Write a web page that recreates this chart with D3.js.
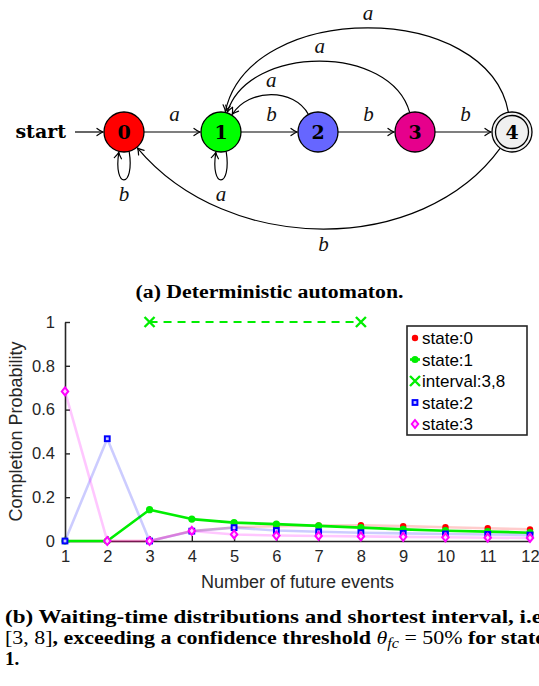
<!DOCTYPE html>
<html>
<head>
<meta charset="utf-8">
<script src="https://cdn.jsdelivr.net/npm/d3@7"></script>
<style>
  body { margin: 0; background: #fff; }
  svg { display: block; }
</style>
</head>
<body>
<svg width="539" height="686"></svg>
<script>
// automaton data
const stateIds = ["0", "1", "2", "3", "4"];
const stateFills = ["#ff0000", "#00ff00", "#6666ff", "#e6008c", "#f0f0f0"];
const acceptingStates = ["4"];
const forwardEdges = [
    { from: "0", to: "1", label: "a" },
    { from: "1", to: "2", label: "b" },
    { from: "2", to: "3", label: "b" },
    { from: "3", to: "4", label: "b" }
];
const loopEdges = [
    { state: "0", label: "b" },
    { state: "1", label: "a" }
];
const backEdges = [
    { from: "2", to: "1", label: "a" },
    { from: "3", to: "1", label: "a" },
    { from: "4", to: "1", label: "a" },
    { from: "4", to: "0", label: "b" }
];

// waiting-time data
const futureEvents = [1, 2, 3, 4, 5, 6, 7, 8, 9, 10, 11, 12];
const state0 = [0, 0, 0, 0.046, 0.062, 0.068, 0.071, 0.072, 0.068, 0.063, 0.058, 0.053];
const state1 = [0, 0, 0.143, 0.1, 0.084, 0.077, 0.069, 0.061, 0.053, 0.047, 0.043, 0.038];
const state2 = [0, 0.467, 0, 0.045, 0.061, 0.048, 0.042, 0.038, 0.035, 0.032, 0.03, 0.027];
const state3 = [0.683, 0, 0, 0.046, 0.03, 0.025, 0.023, 0.021, 0.019, 0.017, 0.015, 0.014];
const intervalBounds = [3, 8];
const intervalLevel = 1;
const yTicks = [0, 0.2, 0.4, 0.6, 0.8, 1];
const legendLabels = ["state:0", "state:1", "interval:3,8", "state:2", "state:3"];

const svg = d3.select("svg");
const ink = "#000";
const serif = "'Liberation Serif', 'Times New Roman', serif";
const sans = "'Liberation Sans', Arial, Helvetica, sans-serif";

// ---------- (a) automaton ----------
const nodeX = d3.scalePoint().domain(stateIds).range([124, 512]);
const nodeY = 132;
const r = 20;

const defs = svg.append("defs");
defs.append("marker")
    .attr("id", "tip")
    .attr("viewBox", "-7 -5 8 10")
    .attr("refX", 0).attr("refY", 0)
    .attr("markerWidth", 8).attr("markerHeight", 10)
    .attr("markerUnits", "userSpaceOnUse")
    .attr("orient", "auto")
    .append("path")
    .attr("d", "M-6,-3.6 Q-2,-0.6 0,0 Q-2,0.6 -6,3.6")
    .attr("fill", "none")
    .attr("stroke", ink)
    .attr("stroke-width", 1.2)
    .attr("stroke-linecap", "round");

const diagram = svg.append("g");

// start arrow
diagram.append("text")
    .attr("x", 66).attr("y", nodeY + 6)
    .attr("text-anchor", "end")
    .attr("font-family", "'DejaVu Serif', serif")
    .attr("font-weight", "bold")
    .attr("font-size", "19px")
    .text("start");
diagram.append("line")
    .attr("x1", 75).attr("x2", nodeX("0") - r - 1)
    .attr("y1", nodeY).attr("y2", nodeY)
    .attr("stroke", ink).attr("stroke-width", 1.2)
    .attr("marker-end", "url(#tip)");

function onCircle(cx, cy, px, py, rad) {
    const a = Math.atan2(py - cy, px - cx);
    return [cx + rad * Math.cos(a), cy + rad * Math.sin(a)];
}

function edgeLabel(x, y, label) {
    diagram.append("text")
        .attr("x", x).attr("y", y)
        .attr("text-anchor", "middle")
        .attr("font-family", serif)
        .attr("font-style", "italic")
        .attr("font-size", "21px")
        .attr("fill", "#111")
        .text(label);
}

// straight edges
forwardEdges.forEach(e => {
    const x0 = nodeX(e.from) + r, x1 = nodeX(e.to) - r;
    diagram.append("line")
        .attr("x1", x0).attr("x2", x1 - 1)
        .attr("y1", nodeY).attr("y2", nodeY)
        .attr("stroke", ink).attr("stroke-width", 1.2)
        .attr("marker-end", "url(#tip)");
    edgeLabel((x0 + x1) / 2 + 2, nodeY - 11, e.label);
});

// self loops below the state
loopEdges.forEach(e => {
    const cx = nodeX(e.state);
    const a0 = 75 * Math.PI / 180, a1 = 105 * Math.PI / 180, L = 38;
    const s = [cx + r * Math.cos(a0), nodeY + r * Math.sin(a0)];
    const t = [cx + r * Math.cos(a1), nodeY + r * Math.sin(a1)];
    const p = d3.path();
    p.moveTo(s[0], s[1]);
    p.bezierCurveTo(s[0] + L * Math.cos(a0) * 0.6, s[1] + L, t[0] + L * Math.cos(a1) * 0.6, t[1] + L, t[0], t[1] + 1);
    diagram.append("path")
        .attr("d", p.toString())
        .attr("fill", "none").attr("stroke", ink).attr("stroke-width", 1.2)
        .attr("marker-end", "url(#tip)");
    edgeLabel(cx, nodeY + 69, e.label);
});

// curved back edges: to state 1 above, to state 0 below
backEdges.forEach(e => {
    const x0 = nodeX(e.from), x1 = nodeX(e.to);
    const span = stateIds.indexOf(e.from) - stateIds.indexOf(e.to);
    const below = e.to === "0";
    const H = below ? 124 : 44 * (span);
    const leanS = below ? 90 : 24;
    const leanE = below ? 104 : 28;
    const dir = below ? 1 : -1;
    const c1 = [x0 - leanS, nodeY + dir * H];
    const c2 = [x1 + leanE, nodeY + dir * H];
    const s = onCircle(x0, nodeY, c1[0], c1[1], r);
    const t = onCircle(x1, nodeY, c2[0], c2[1], r + 1);
    const p = d3.path();
    p.moveTo(s[0], s[1]);
    p.bezierCurveTo(c1[0], c1[1], c2[0], c2[1], t[0], t[1]);
    diagram.append("path")
        .attr("d", p.toString())
        .attr("fill", "none").attr("stroke", ink).attr("stroke-width", 1.2)
        .attr("marker-end", "url(#tip)");
    const mx = (s[0] + 3 * c1[0] + 3 * c2[0] + t[0]) / 8;
    const my = (s[1] + 3 * c1[1] + 3 * c2[1] + t[1]) / 8;
    edgeLabel(mx, below ? my + 22 : my - 8, e.label);
});

// states
const nodes = diagram.selectAll(".state")
    .data(stateIds)
    .enter().append("g")
    .attr("class", "state")
    .attr("transform", d => `translate(${nodeX(d)},${nodeY})`);
nodes.append("circle")
    .attr("r", r)
    .attr("fill", (d, i) => stateFills[i])
    .attr("stroke", ink).attr("stroke-width", 1.3);
nodes.filter(d => acceptingStates.includes(d))
    .append("circle")
    .attr("r", r - 3.5)
    .attr("fill", "none")
    .attr("stroke", ink).attr("stroke-width", 1.3);
nodes.append("text")
    .attr("y", 7)
    .attr("text-anchor", "middle")
    .attr("font-family", "'DejaVu Serif', serif")
    .attr("font-weight", "bold")
    .attr("font-size", "19px")
    .text(d => d);

// caption (a)
svg.append("text")
    .attr("x", 269.5).attr("y", 298)
    .attr("text-anchor", "middle")
    .attr("font-family", serif)
    .attr("font-weight", "bold")
    .attr("font-size", "18px")
    .attr("textLength", 268)
    .attr("lengthAdjust", "spacingAndGlyphs")
    .text("(a) Deterministic automaton.");

// ---------- (b) chart ----------
const x = d3.scaleLinear().domain([1, 12]).range([65, 530]);
const y = d3.scaleLinear().domain([0, 1]).range([541, 322]);
const axisInk = "#262626";

const chart = svg.append("g");

// axes (ticks pointing inside like MATLAB)
const yAxis = chart.append("g")
    .attr("transform", `translate(${x(1)},0)`)
    .call(d3.axisLeft(y).tickValues(yTicks).tickSizeInner(-5).tickSizeOuter(0).tickPadding(10)
        .tickFormat(d => d3.format("~g")(d)));
const xAxis = chart.append("g")
    .attr("transform", `translate(0,${y(0)})`)
    .call(d3.axisBottom(x).tickValues(futureEvents).tickSizeInner(-5).tickSizeOuter(0).tickPadding(9)
        .tickFormat(d3.format("d")));
[yAxis, xAxis].forEach(a => {
    a.select(".domain").attr("stroke", axisInk).attr("stroke-width", 1.6);
    a.selectAll(".tick line").attr("stroke", axisInk).attr("stroke-width", 1.4);
    a.selectAll(".tick text")
        .attr("fill", axisInk)
        .attr("font-family", sans)
        .attr("font-size", "16.5px");
});

chart.append("text")
    .attr("transform", `translate(22,${(y(0) + y(1)) / 2}) rotate(-90)`)
    .attr("text-anchor", "middle")
    .attr("font-family", sans)
    .attr("font-size", "18px")
    .attr("fill", axisInk)
    .text("Completion Probability");
chart.append("text")
    .attr("x", (x(1) + x(12)) / 2).attr("y", 588)
    .attr("text-anchor", "middle")
    .attr("font-family", sans)
    .attr("font-size", "18px")
    .attr("fill", axisInk)
    .text("Number of future events");

const line = d3.line().x((d, i) => x(futureEvents[i])).y(d => y(d));

const series = [
    { values: state0, color: "#ff0000", opacity: 0.2, marker: "dot" },
    { values: state1, color: "#00ee00", opacity: 1, marker: "circle" },
    { values: state2, color: "#0000ff", opacity: 0.2, marker: "square" },
    { values: state3, color: "#ff00ff", opacity: 0.22, marker: "diamond" }
];

function drawMarker(g, kind, color, cx, cy) {
    if (kind === "dot") {
        g.append("circle").attr("cx", cx).attr("cy", cy).attr("r", 3.2).attr("fill", color);
    } else if (kind === "circle") {
        g.append("circle").attr("cx", cx).attr("cy", cy).attr("r", 3.6).attr("fill", color);
    } else if (kind === "square") {
        g.append("rect").attr("x", cx - 2.4).attr("y", cy - 2.4).attr("width", 4.8).attr("height", 4.8)
            .attr("fill", "#c8c8ff").attr("stroke", color).attr("stroke-width", 2);
    } else if (kind === "diamond") {
        g.append("path")
            .attr("d", `M${cx},${cy - 4} L${cx + 3.2},${cy} L${cx},${cy + 4} L${cx - 3.2},${cy} Z`)
            .attr("fill", "#ffd6ff").attr("stroke", color).attr("stroke-width", 2);
    } else if (kind === "cross") {
        g.append("path")
            .attr("d", `M${cx - 5},${cy - 5} L${cx + 5},${cy + 5} M${cx - 5},${cy + 5} L${cx + 5},${cy - 5}`)
            .attr("stroke", color).attr("stroke-width", 2.4).attr("fill", "none");
    }
}

// interval drawn after state:1 as in the legend order
series.forEach((s, k) => {
    const g = chart.append("g");
    g.append("path")
        .datum(s.values)
        .attr("d", line)
        .attr("fill", "none")
        .attr("stroke", s.color)
        .attr("stroke-opacity", s.opacity)
        .attr("stroke-width", 2.6)
        .attr("stroke-linejoin", "round");
    s.values.forEach((v, i) => drawMarker(g, s.marker, s.color, x(futureEvents[i]), y(v)));
    if (k === 1) {
        const gi = chart.append("g");
        gi.append("line")
            .attr("x1", x(intervalBounds[0])).attr("x2", x(intervalBounds[1]))
            .attr("y1", y(intervalLevel)).attr("y2", y(intervalLevel))
            .attr("stroke", "#00ee00").attr("stroke-width", 2.2)
            .attr("stroke-dasharray", "8,6");
        intervalBounds.forEach(b => drawMarker(gi, "cross", "#00ee00", x(b), y(intervalLevel)));
    }
});

// legend
const legend = chart.append("g").attr("transform", "translate(407,326)");
legend.append("rect")
    .attr("width", 120).attr("height", 109)
    .attr("fill", "#fff")
    .attr("stroke", axisInk).attr("stroke-width", 1.6);
const legendMarks = [
    { kind: "dot", color: "#ff0000" },
    { kind: "circle", color: "#00ee00", withLine: true },
    { kind: "cross", color: "#00ee00" },
    { kind: "square", color: "#0000ff" },
    { kind: "diamond", color: "#ff00ff" }
];
legendLabels.forEach((lab, i) => {
    const ly = 12 + i * 21.5;
    const m = legendMarks[i];
    if (m.withLine) {
        legend.append("line").attr("x1", 3).attr("x2", 13).attr("y1", ly).attr("y2", ly)
            .attr("stroke", m.color).attr("stroke-width", 2.6);
    }
    drawMarker(legend, m.kind, m.color, 8, ly);
    legend.append("text")
        .attr("x", 15).attr("y", ly + 6)
        .attr("font-family", sans)
        .attr("font-size", "17px")
        .attr("fill", "#000")
        .text(lab);
});

// caption (b), runs past the right edge as in the source
const cap = svg.append("g")
    .attr("font-family", serif)
    .attr("font-size", "19px")
    .attr("fill", "#000");
cap.append("text")
    .attr("x", 5).attr("y", 623)
    .attr("font-weight", "bold")
    .attr("textLength", 537)
    .attr("lengthAdjust", "spacingAndGlyphs")
    .text("(b) Waiting-time distributions and shortest interval, i.e");
const l2 = cap.append("text").attr("x", 5).attr("y", 644)
    .attr("textLength", 540)
    .attr("lengthAdjust", "spacingAndGlyphs");
l2.append("tspan").text("[3, 8]");
l2.append("tspan").attr("font-weight", "bold").text(", exceeding a confidence threshold ");
l2.append("tspan").attr("font-style", "italic").text("θ");
l2.append("tspan").attr("font-style", "italic").attr("font-size", "14px").attr("dy", 4).text("fc");
l2.append("tspan").attr("dy", -4).text(" = 50% ");
l2.append("tspan").attr("font-weight", "bold").text("for state");
cap.append("text")
    .attr("x", 5).attr("y", 665)
    .attr("font-weight", "bold")
    .text("1.");
</script>
</body>
</html>
